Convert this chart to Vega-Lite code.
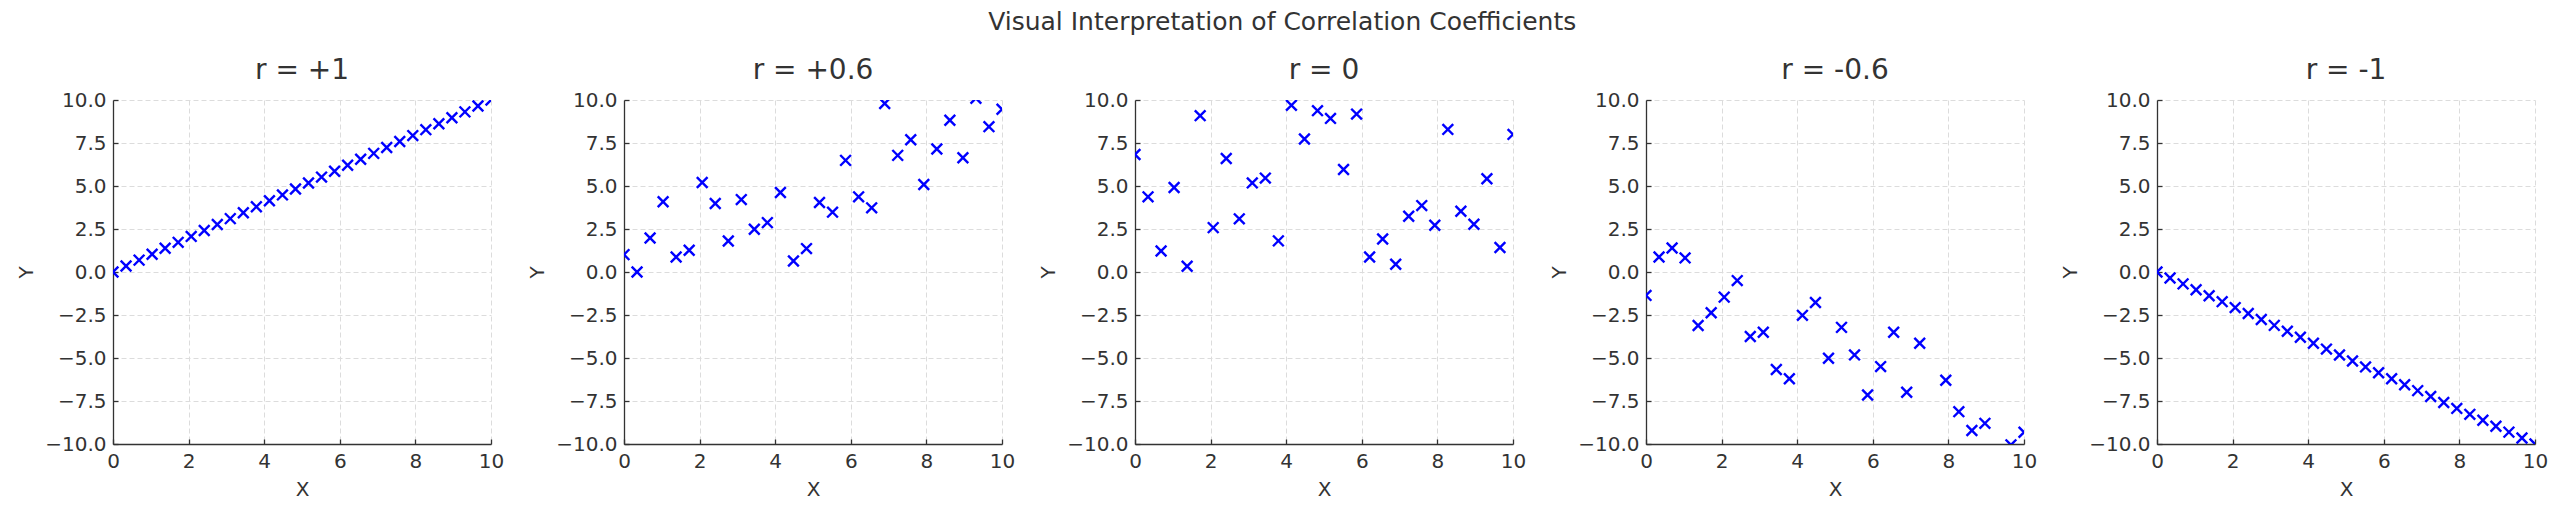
{
  "$schema": "https://vega.github.io/schema/vega-lite/v6.json",
  "background": "white",
  "padding": {"left": 16, "top": 10, "right": 5, "bottom": 5},
  "title": {"text": "Visual Interpretation of Correlation Coefficients", "fontSize": 25, "fontWeight": "normal", "color": "#333333", "font": "DejaVu Sans", "anchor": "middle", "offset": 22},
  "datasets": {
    "pts": [
      {"panel": "p1", "x": 0, "y": 0}, {"panel": "p1", "x": 0.345, "y": 0.345}, {"panel": "p1", "x": 0.69, "y": 0.69}, {"panel": "p1", "x": 1.034, "y": 1.034}, {"panel": "p1", "x": 1.379, "y": 1.379}, {"panel": "p1", "x": 1.724, "y": 1.724}, {"panel": "p1", "x": 2.069, "y": 2.069}, {"panel": "p1", "x": 2.414, "y": 2.414}, {"panel": "p1", "x": 2.759, "y": 2.759}, {"panel": "p1", "x": 3.103, "y": 3.103}, {"panel": "p1", "x": 3.448, "y": 3.448}, {"panel": "p1", "x": 3.793, "y": 3.793}, {"panel": "p1", "x": 4.138, "y": 4.138}, {"panel": "p1", "x": 4.483, "y": 4.483}, {"panel": "p1", "x": 4.828, "y": 4.828}, {"panel": "p1", "x": 5.172, "y": 5.172}, {"panel": "p1", "x": 5.517, "y": 5.517}, {"panel": "p1", "x": 5.862, "y": 5.862}, {"panel": "p1", "x": 6.207, "y": 6.207}, {"panel": "p1", "x": 6.552, "y": 6.552}, {"panel": "p1", "x": 6.897, "y": 6.897}, {"panel": "p1", "x": 7.241, "y": 7.241}, {"panel": "p1", "x": 7.586, "y": 7.586}, {"panel": "p1", "x": 7.931, "y": 7.931}, {"panel": "p1", "x": 8.276, "y": 8.276}, {"panel": "p1", "x": 8.621, "y": 8.621}, {"panel": "p1", "x": 8.966, "y": 8.966}, {"panel": "p1", "x": 9.31, "y": 9.31}, {"panel": "p1", "x": 9.655, "y": 9.655}, {"panel": "p1", "x": 10, "y": 10},
      {"panel": "p2", "x": 0, "y": 1.01}, {"panel": "p2", "x": 0.345, "y": 0.0}, {"panel": "p2", "x": 0.69, "y": 1.98}, {"panel": "p2", "x": 1.034, "y": 4.08}, {"panel": "p2", "x": 1.379, "y": 0.87}, {"panel": "p2", "x": 1.724, "y": 1.26}, {"panel": "p2", "x": 2.069, "y": 5.2}, {"panel": "p2", "x": 2.414, "y": 3.98}, {"panel": "p2", "x": 2.759, "y": 1.8}, {"panel": "p2", "x": 3.103, "y": 4.21}, {"panel": "p2", "x": 3.448, "y": 2.49}, {"panel": "p2", "x": 3.793, "y": 2.87}, {"panel": "p2", "x": 4.138, "y": 4.62}, {"panel": "p2", "x": 4.483, "y": 0.64}, {"panel": "p2", "x": 4.828, "y": 1.36}, {"panel": "p2", "x": 5.172, "y": 4.04}, {"panel": "p2", "x": 5.517, "y": 3.48}, {"panel": "p2", "x": 5.862, "y": 6.49}, {"panel": "p2", "x": 6.207, "y": 4.37}, {"panel": "p2", "x": 6.552, "y": 3.73}, {"panel": "p2", "x": 6.897, "y": 9.8}, {"panel": "p2", "x": 7.241, "y": 6.78}, {"panel": "p2", "x": 7.586, "y": 7.69}, {"panel": "p2", "x": 7.931, "y": 5.09}, {"panel": "p2", "x": 8.276, "y": 7.15}, {"panel": "p2", "x": 8.621, "y": 8.82}, {"panel": "p2", "x": 8.966, "y": 6.64}, {"panel": "p2", "x": 9.31, "y": 10.1}, {"panel": "p2", "x": 9.655, "y": 8.45}, {"panel": "p2", "x": 10, "y": 9.46},
      {"panel": "p3", "x": 0, "y": 6.83}, {"panel": "p3", "x": 0.345, "y": 4.37}, {"panel": "p3", "x": 0.69, "y": 1.22}, {"panel": "p3", "x": 1.034, "y": 4.91}, {"panel": "p3", "x": 1.379, "y": 0.33}, {"panel": "p3", "x": 1.724, "y": 9.09}, {"panel": "p3", "x": 2.069, "y": 2.58}, {"panel": "p3", "x": 2.414, "y": 6.6}, {"panel": "p3", "x": 2.759, "y": 3.09}, {"panel": "p3", "x": 3.103, "y": 5.18}, {"panel": "p3", "x": 3.448, "y": 5.46}, {"panel": "p3", "x": 3.793, "y": 1.81}, {"panel": "p3", "x": 4.138, "y": 9.69}, {"panel": "p3", "x": 4.483, "y": 7.73}, {"panel": "p3", "x": 4.828, "y": 9.38}, {"panel": "p3", "x": 5.172, "y": 8.93}, {"panel": "p3", "x": 5.517, "y": 5.96}, {"panel": "p3", "x": 5.862, "y": 9.18}, {"panel": "p3", "x": 6.207, "y": 0.87}, {"panel": "p3", "x": 6.552, "y": 1.92}, {"panel": "p3", "x": 6.897, "y": 0.45}, {"panel": "p3", "x": 7.241, "y": 3.24}, {"panel": "p3", "x": 7.586, "y": 3.86}, {"panel": "p3", "x": 7.931, "y": 2.72}, {"panel": "p3", "x": 8.276, "y": 8.29}, {"panel": "p3", "x": 8.621, "y": 3.53}, {"panel": "p3", "x": 8.966, "y": 2.78}, {"panel": "p3", "x": 9.31, "y": 5.42}, {"panel": "p3", "x": 9.655, "y": 1.42}, {"panel": "p3", "x": 10, "y": 8.0},
      {"panel": "p4", "x": 0, "y": -1.36}, {"panel": "p4", "x": 0.345, "y": 0.87}, {"panel": "p4", "x": 0.69, "y": 1.4}, {"panel": "p4", "x": 1.034, "y": 0.82}, {"panel": "p4", "x": 1.379, "y": -3.11}, {"panel": "p4", "x": 1.724, "y": -2.37}, {"panel": "p4", "x": 2.069, "y": -1.46}, {"panel": "p4", "x": 2.414, "y": -0.5}, {"panel": "p4", "x": 2.759, "y": -3.75}, {"panel": "p4", "x": 3.103, "y": -3.5}, {"panel": "p4", "x": 3.448, "y": -5.67}, {"panel": "p4", "x": 3.793, "y": -6.21}, {"panel": "p4", "x": 4.138, "y": -2.52}, {"panel": "p4", "x": 4.483, "y": -1.77}, {"panel": "p4", "x": 4.828, "y": -5.01}, {"panel": "p4", "x": 5.172, "y": -3.22}, {"panel": "p4", "x": 5.517, "y": -4.82}, {"panel": "p4", "x": 5.862, "y": -7.15}, {"panel": "p4", "x": 6.207, "y": -5.5}, {"panel": "p4", "x": 6.552, "y": -3.5}, {"panel": "p4", "x": 6.897, "y": -6.99}, {"panel": "p4", "x": 7.241, "y": -4.14}, {"panel": "p4", "x": 7.586, "y": -10.9}, {"panel": "p4", "x": 7.931, "y": -6.29}, {"panel": "p4", "x": 8.276, "y": -8.12}, {"panel": "p4", "x": 8.621, "y": -9.22}, {"panel": "p4", "x": 8.966, "y": -8.8}, {"panel": "p4", "x": 9.31, "y": -11.2}, {"panel": "p4", "x": 9.655, "y": -10.05}, {"panel": "p4", "x": 10, "y": -9.32},
      {"panel": "p5", "x": 0, "y": 0}, {"panel": "p5", "x": 0.345, "y": -0.345}, {"panel": "p5", "x": 0.69, "y": -0.69}, {"panel": "p5", "x": 1.034, "y": -1.034}, {"panel": "p5", "x": 1.379, "y": -1.379}, {"panel": "p5", "x": 1.724, "y": -1.724}, {"panel": "p5", "x": 2.069, "y": -2.069}, {"panel": "p5", "x": 2.414, "y": -2.414}, {"panel": "p5", "x": 2.759, "y": -2.759}, {"panel": "p5", "x": 3.103, "y": -3.103}, {"panel": "p5", "x": 3.448, "y": -3.448}, {"panel": "p5", "x": 3.793, "y": -3.793}, {"panel": "p5", "x": 4.138, "y": -4.138}, {"panel": "p5", "x": 4.483, "y": -4.483}, {"panel": "p5", "x": 4.828, "y": -4.828}, {"panel": "p5", "x": 5.172, "y": -5.172}, {"panel": "p5", "x": 5.517, "y": -5.517}, {"panel": "p5", "x": 5.862, "y": -5.862}, {"panel": "p5", "x": 6.207, "y": -6.207}, {"panel": "p5", "x": 6.552, "y": -6.552}, {"panel": "p5", "x": 6.897, "y": -6.897}, {"panel": "p5", "x": 7.241, "y": -7.241}, {"panel": "p5", "x": 7.586, "y": -7.586}, {"panel": "p5", "x": 7.931, "y": -7.931}, {"panel": "p5", "x": 8.276, "y": -8.276}, {"panel": "p5", "x": 8.621, "y": -8.621}, {"panel": "p5", "x": 8.966, "y": -8.966}, {"panel": "p5", "x": 9.31, "y": -9.31}, {"panel": "p5", "x": 9.655, "y": -9.655}, {"panel": "p5", "x": 10, "y": -10}
    ]
  },
  "data": {"name": "pts"},
  "spacing": 133,
  "bounds": "flush",
  "hconcat": [
    {"title": "r = +1", "width": 378, "height": 344, "transform": [{"filter": {"field": "panel", "equal": "p1"}}],
     "mark": {"type": "point", "shape": "M-1,-1L1,1M-1,1L1,-1", "size": 115, "filled": false, "color": "#0000ff", "strokeWidth": 2.4, "opacity": 1, "clip": true},
     "encoding": {
       "x": {"field": "x", "type": "quantitative", "scale": {"domain": [0, 10], "nice": false, "zero": false}, "axis": {"values": [0, 2, 4, 6, 8, 10], "format": "d", "title": "X"}},
       "y": {"field": "y", "type": "quantitative", "scale": {"domain": [-10, 10], "nice": false, "zero": false}, "axis": {"values": [-10, -7.5, -5, -2.5, 0, 2.5, 5, 7.5, 10], "format": ".1f", "title": "Y"}}
     }},
    {"title": "r = +0.6", "width": 378, "height": 344, "transform": [{"filter": {"field": "panel", "equal": "p2"}}],
     "mark": {"type": "point", "shape": "M-1,-1L1,1M-1,1L1,-1", "size": 115, "filled": false, "color": "#0000ff", "strokeWidth": 2.4, "opacity": 1, "clip": true},
     "encoding": {
       "x": {"field": "x", "type": "quantitative", "scale": {"domain": [0, 10], "nice": false, "zero": false}, "axis": {"values": [0, 2, 4, 6, 8, 10], "format": "d", "title": "X"}},
       "y": {"field": "y", "type": "quantitative", "scale": {"domain": [-10, 10], "nice": false, "zero": false}, "axis": {"values": [-10, -7.5, -5, -2.5, 0, 2.5, 5, 7.5, 10], "format": ".1f", "title": "Y"}}
     }},
    {"title": "r = 0", "width": 378, "height": 344, "transform": [{"filter": {"field": "panel", "equal": "p3"}}],
     "mark": {"type": "point", "shape": "M-1,-1L1,1M-1,1L1,-1", "size": 115, "filled": false, "color": "#0000ff", "strokeWidth": 2.4, "opacity": 1, "clip": true},
     "encoding": {
       "x": {"field": "x", "type": "quantitative", "scale": {"domain": [0, 10], "nice": false, "zero": false}, "axis": {"values": [0, 2, 4, 6, 8, 10], "format": "d", "title": "X"}},
       "y": {"field": "y", "type": "quantitative", "scale": {"domain": [-10, 10], "nice": false, "zero": false}, "axis": {"values": [-10, -7.5, -5, -2.5, 0, 2.5, 5, 7.5, 10], "format": ".1f", "title": "Y"}}
     }},
    {"title": "r = -0.6", "width": 378, "height": 344, "transform": [{"filter": {"field": "panel", "equal": "p4"}}],
     "mark": {"type": "point", "shape": "M-1,-1L1,1M-1,1L1,-1", "size": 115, "filled": false, "color": "#0000ff", "strokeWidth": 2.4, "opacity": 1, "clip": true},
     "encoding": {
       "x": {"field": "x", "type": "quantitative", "scale": {"domain": [0, 10], "nice": false, "zero": false}, "axis": {"values": [0, 2, 4, 6, 8, 10], "format": "d", "title": "X"}},
       "y": {"field": "y", "type": "quantitative", "scale": {"domain": [-10, 10], "nice": false, "zero": false}, "axis": {"values": [-10, -7.5, -5, -2.5, 0, 2.5, 5, 7.5, 10], "format": ".1f", "title": "Y"}}
     }},
    {"title": "r = -1", "width": 378, "height": 344, "transform": [{"filter": {"field": "panel", "equal": "p5"}}],
     "mark": {"type": "point", "shape": "M-1,-1L1,1M-1,1L1,-1", "size": 115, "filled": false, "color": "#0000ff", "strokeWidth": 2.4, "opacity": 1, "clip": true},
     "encoding": {
       "x": {"field": "x", "type": "quantitative", "scale": {"domain": [0, 10], "nice": false, "zero": false}, "axis": {"values": [0, 2, 4, 6, 8, 10], "format": "d", "title": "X"}},
       "y": {"field": "y", "type": "quantitative", "scale": {"domain": [-10, 10], "nice": false, "zero": false}, "axis": {"values": [-10, -7.5, -5, -2.5, 0, 2.5, 5, 7.5, 10], "format": ".1f", "title": "Y"}}
     }}
  ],
  "config": {
    "font": "DejaVu Sans",
    "view": {"stroke": null},
    "title": {"fontSize": 28, "fontWeight": "normal", "color": "#333333", "font": "DejaVu Sans", "offset": 5},
    "axis": {
      "domainColor": "#333333", "domainWidth": 1.3,
      "tickColor": "#333333", "tickSize": -5, "tickWidth": 1.3,
      "labelPadding": 12, "labelFontSize": 20, "labelColor": "#333333", "labelFont": "DejaVu Sans",
      "titleFontSize": 20, "titleFontWeight": "normal", "titleColor": "#333333", "titleFont": "DejaVu Sans", "titlePadding": 8,
      "grid": true, "gridColor": "#dcdcdc", "gridDash": [5, 3], "gridWidth": 1
    },
    "axisX": {"labelFlush": false}
  }
}
